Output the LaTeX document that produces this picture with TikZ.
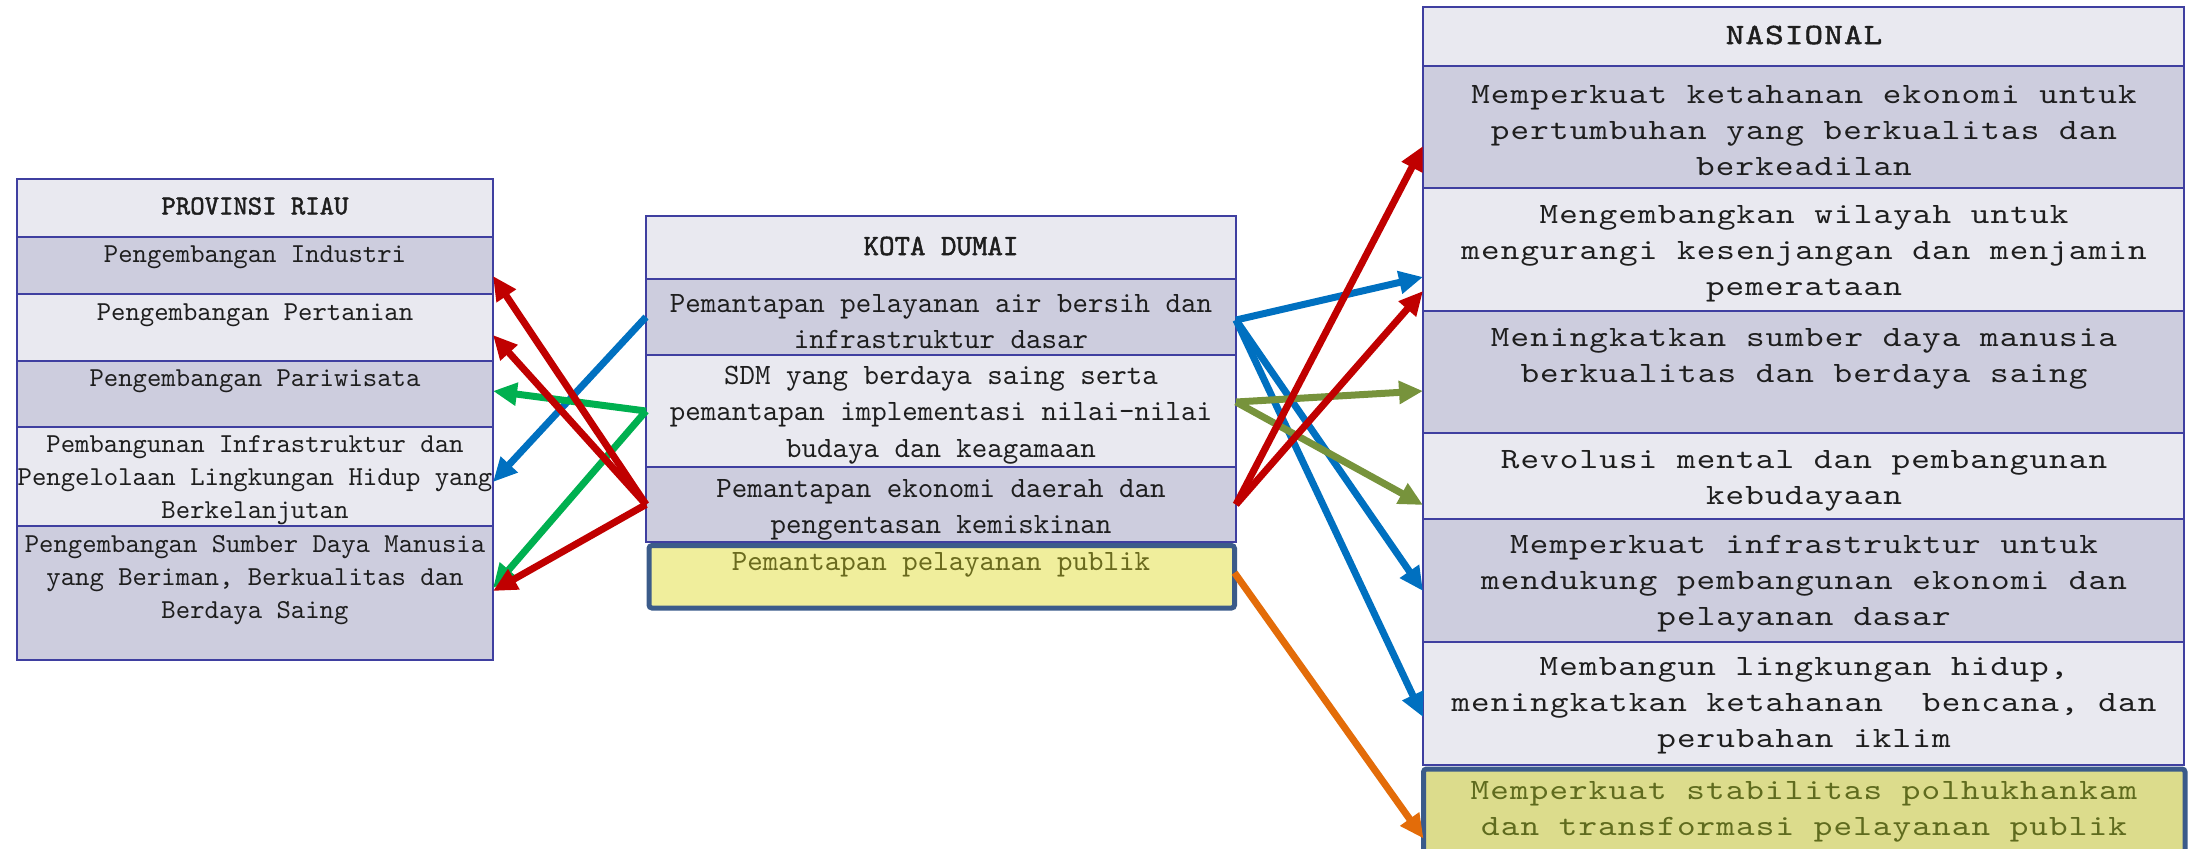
\documentclass[tikz,border=0pt]{standalone}
\usepackage{fontspec}
\usetikzlibrary{arrows.meta,calc}
\newfontfamily\riauf{lmmono10-regular.otf}
\newfontfamily\riaubf[FakeBold=1.6]{lmmono10-regular.otf}
\newfontfamily\kotaf{lmmono10-regular.otf}
\newfontfamily\nasf[FakeStretch=1.2,LetterSpace=3.8]{lmmono10-regular.otf}
\newfontfamily\nasbf[FakeStretch=1.2,LetterSpace=3.8,FakeBold=1.6]{lmmono10-regular.otf}
\definecolor{bd}{HTML}{3F3FA0}
\definecolor{lightf}{HTML}{E9E9F0}
\definecolor{darkf}{HTML}{CDCDDE}
\definecolor{yelA}{HTML}{F0EE9C}
\definecolor{yelB}{HTML}{DCDC8C}
\definecolor{yelbd}{HTML}{3B5B8A}
\definecolor{yeltxtA}{HTML}{6A6A1E}
\definecolor{yeltxtB}{HTML}{5F6B1E}
\definecolor{txt}{HTML}{1E1E1E}
\definecolor{cred}{HTML}{C00000}
\definecolor{cblue}{HTML}{0070C0}
\definecolor{cgreen}{HTML}{00B050}
\definecolor{colive}{HTML}{77933C}
\definecolor{corange}{HTML}{E36C09}
\begin{document}
\begin{tikzpicture}[x=0.5pt,y=-0.5pt,
  box/.style={draw=bd, line width=1pt, inner sep=0pt, outer sep=0pt, anchor=north west, rectangle},
  lt/.style={box, fill=lightf},
  dk/.style={box, fill=darkf},
  ybox/.style={draw=yelbd, line width=2.5pt, inner sep=0pt, outer sep=0pt, anchor=north west, rectangle, rounded corners=1.5pt},
  rt/.style={font=\riauf\fontsize{13.7pt}{16.5pt}\selectfont, align=center, inner sep=0pt, text=txt},
  rht/.style={rt, font=\riaubf\fontsize{13.7pt}{16.5pt}\selectfont},
  kt/.style={font=\kotaf\fontsize{14.75pt}{18.3pt}\selectfont, align=center, inner sep=0pt, text=txt},
  kht/.style={kt, font=\riaubf\fontsize{14.75pt}{18.3pt}\selectfont},
  nt/.style={font=\nasf\fontsize{14.75pt}{18pt}\selectfont, align=center, inner sep=0pt, text=txt},
  nht/.style={nt, font=\nasbf\fontsize{14.75pt}{18pt}\selectfont},
  arr/.style={line width=3.5pt, -{Triangle[length=12pt,width=11pt]}}
]
\useasboundingbox (0,0) rectangle (2188,848);
% ---------- PROVINSI RIAU ----------
\node[lt, minimum width=238pt, minimum height=29pt] (rh) at (17,179) {};
\node[dk, minimum width=238pt, minimum height=28.5pt] (r1) at (17,237) {};
\node[lt, minimum width=238pt, minimum height=33.5pt] (r2) at (17,294) {};
\node[dk, minimum width=238pt, minimum height=33pt] (r3) at (17,361) {};
\node[lt, minimum width=238pt, minimum height=49.5pt] (r4) at (17,427) {};
\node[dk, minimum width=238pt, minimum height=67pt] (r5) at (17,526) {};
\node[rht] (rhtx) at (255,206) {PROVINSI RIAU};
\node[rt] (r1t) at (255,257) {Pengembangan Industri};
\node[rt] (r2t) at (255,315) {Pengembangan Pertanian};
\node[rt] (r3t) at (255,381) {Pengembangan Pariwisata};
\node[rt] (r4t) at (255,480) {Pembangunan Infrastruktur dan\\Pengelolaan Lingkungan Hidup yang\\Berkelanjutan};
\node[rt] (r5t) at (255,580) {Pengembangan Sumber Daya Manusia\\yang Beriman, Berkualitas dan\\Berdaya Saing};
% ---------- KOTA DUMAI ----------
\node[lt, minimum width=295pt, minimum height=31.5pt] (kh) at (646,216) {};
\node[dk, minimum width=295pt, minimum height=38pt] (k1) at (646,279) {};
\node[lt, minimum width=295pt, minimum height=56pt] (k2) at (646,355) {};
\node[dk, minimum width=295pt, minimum height=37.5pt] (k3) at (646,467) {};
\node[ybox, fill=yelA, minimum width=292.75pt, minimum height=31.25pt] (k4) at (649,545.5) {};
\node[kht] (khtx) at (941,246) {KOTA DUMAI};
\node[kt] (k1t) at (941,321.5) {Pemantapan pelayanan air bersih dan\\infrastruktur dasar};
\node[kt] (k2t) at (941,415) {SDM yang berdaya saing serta\\pemantapan implementasi nilai-nilai\\budaya dan keagamaan};
\node[kt] (k3t) at (941,510) {Pemantapan ekonomi daerah dan\\pengentasan kemiskinan};
\node[kt, text=yeltxtA] (k4t) at (941,565) {Pemantapan pelayanan publik};
% ---------- NASIONAL ----------
\node[lt, minimum width=380.5pt, minimum height=29.5pt] (nh) at (1423,7) {};
\node[dk, minimum width=380.5pt, minimum height=61pt] (n1) at (1423,66) {};
\node[lt, minimum width=380.5pt, minimum height=61.5pt] (n2) at (1423,188) {};
\node[dk, minimum width=380.5pt, minimum height=61pt] (n3) at (1423,311) {};
\node[lt, minimum width=380.5pt, minimum height=43pt] (n4) at (1423,433) {};
\node[dk, minimum width=380.5pt, minimum height=61.5pt] (n5) at (1423,519) {};
\node[lt, minimum width=380.5pt, minimum height=61.5pt] (n6) at (1423,642) {};
\node[ybox, fill=yelB, minimum width=380.75pt, minimum height=55.5pt] (n7) at (1423.5,769) {};
\node[nht] (nhtx) at (1804,35) {NASIONAL};
\node[nt] (n1t) at (1804,131) {Memperkuat ketahanan ekonomi untuk\\pertumbuhan yang berkualitas dan\\berkeadilan};
\node[nt] (n2t) at (1804,253.5) {Mengembangkan wilayah untuk\\mengurangi kesenjangan dan menjamin\\pemerataan};
\node[nt] (n3t) at (1804,359) {Meningkatkan sumber daya manusia\\berkualitas dan berdaya saing};
\node[nt] (n4t) at (1804,481) {Revolusi mental dan pembangunan\\kebudayaan};
\node[nt] (n5t) at (1804,584) {Memperkuat infrastruktur untuk\\mendukung pembangunan ekonomi dan\\pelayanan dasar};
\node[nt] (n6t) at (1804,706) {Membangun lingkungan hidup,\\meningkatkan ketahanan~~bencana, dan\\perubahan iklim};
\node[nt, text=yeltxtB] (n7t) at (1804,811.5) {Memperkuat stabilitas polhukhankam\\dan transformasi pelayanan publik};
% ---------- arrows: Kota -> Riau ----------
\draw[arr, cblue] (k1.west) -- ($(r4.east)+(0,5.5)$);
\draw[arr, cgreen] (k2.west) -- ($(r3.east)+(0,-3)$);
\draw[arr, cgreen] (k2.west) -- ($(r5.east)+(0,-5)$);
\draw[arr, cred] (k3.west) -- ($(r1.east)+(0,10.5)$);
\draw[arr, cred] (k3.west) -- ($(r2.east)+(0,7.5)$);
\draw[arr, cred] (k3.west) -- ($(r5.east)+(0,-2)$);
% ---------- arrows: Kota -> Nasional ----------
\draw[arr, cblue] ($(k1.east)+(0,3)$) -- ($(n2.west)+(0,27.5)$);
\draw[arr, cblue] ($(k1.east)+(0,3)$) -- ($(n5.west)+(0,10.5)$);
\draw[arr, cblue] ($(k1.east)+(0,3)$) -- ($(n6.west)+(0,13.5)$);
\draw[arr, colive] ($(k2.east)+(0,-9)$) -- ($(n3.west)+(0,19)$);
\draw[arr, colive] ($(k2.east)+(0,-9)$) -- ($(n4.west)+(0,29)$);
\draw[arr, cred] (k3.east) -- ($(n1.west)+(0,19)$);
\draw[arr, cred] (k3.east) -- ($(n2.west)+(0,41.5)$);
\draw[arr, corange] ($(k4.east)+(0,-4)$) -- ($(n7.west)+(0,14)$);
\end{tikzpicture}
\end{document}
